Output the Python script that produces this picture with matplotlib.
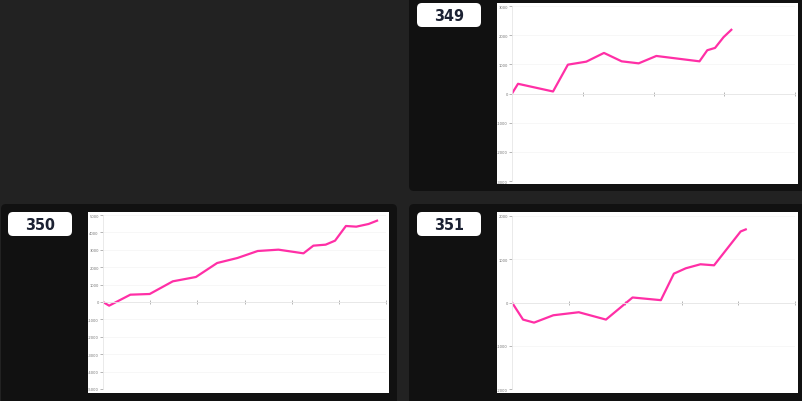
import matplotlib.pyplot as plt
from matplotlib.patches import FancyBboxPatch, Rectangle

# cumulative results for each card (x in period units)
ids = ['349', '350', '351']

x_349 = [0, 0.085, 0.58, 0.79, 1.05, 1.30, 1.55, 1.79, 2.04, 2.65, 2.76, 2.87, 2.99, 3.10]
y_349 = [0, 333, 69, 989, 1092, 1391, 1103, 1034, 1287, 1103, 1483, 1563, 1931, 2184]

x_350 = [0, 0.13, 0.58, 0.99, 1.48, 1.97, 2.42, 2.85, 3.28, 3.72, 4.25, 4.46, 4.72, 4.92,
         5.15, 5.37, 5.63, 5.81]
y_350 = [0, -211, 421, 460, 1188, 1437, 2241, 2529, 2931, 3008, 2797, 3238, 3295, 3525,
         4368, 4330, 4483, 4674]

x_351 = [0, 0.195, 0.39, 0.73, 1.18, 1.66, 2.13, 2.63, 2.86, 3.07, 3.33, 3.57, 4.04, 4.13]
y_351 = [0, -395, -465, -295, -225, -395, 116, 54, 667, 791, 884, 860, 1643, 1690]

xmax = [4, 6, 5]
ylim = [3000, 5000, 2000]

W, H = 803, 402
fig = plt.figure(figsize=(W / 100, H / 100), dpi=100)
fig.patch.set_facecolor('#222222')

bg = fig.add_axes([0, 0, 1, 1])
bg.set_xlim(0, W)
bg.set_ylim(H, 0)
bg.axis('off')

# dark cards: (x0, y0, x1, y1) in pixels
cards = [(409, -10, 813, 192), (1, 205, 397, 412), (409, 205, 813, 412)]
white = [(497, 4, 798, 185), (88, 213, 389, 394), (497, 213, 798, 394)]
labels = [(417, 4, 481, 28), (8, 213, 72, 237), (417, 213, 481, 237)]
plots = [(512, 7, 795, 182), (103, 216, 386, 390), (512, 217, 795, 390)]

for (a, b, c, d) in cards:
    bg.add_patch(FancyBboxPatch((a, b), c - a, d - b, boxstyle='round,pad=0,rounding_size=5',
                                fc='#111111', ec='none'))
for (a, b, c, d) in white:
    bg.add_patch(Rectangle((a, b), c - a, d - b, fc='white', ec='none'))
for (a, b, c, d), name in zip(labels, ids):
    bg.add_patch(FancyBboxPatch((a, b), c - a, d - b, boxstyle='round,pad=0,rounding_size=5',
                                fc='white', ec='none'))
    bg.text((a + c) / 2, (b + d) / 2 + 0.5, name, ha='center', va='center', fontsize=11.5,
            fontweight='bold', color='#1c2233', family='DejaVu Sans',
            fontstretch='condensed')

series = [(x_349, y_349), (x_350, y_350), (x_351, y_351)]
for (a, b, c, d), (xs, ys), xm, yl in zip(plots, series, xmax, ylim):
    ax = fig.add_axes([a / W, 1 - d / H, (c - a) / W, (d - b) / H])
    ax.patch.set_alpha(0)
    ax.plot(xs, ys, color='#ff2fa6', lw=1.6, solid_joinstyle='round')
    ax.set_xlim(0, xm)
    ax.set_ylim(-yl, yl)
    ax.set_yticks(range(-yl, yl + 1, 1000))
    ax.set_yticklabels([str(v) for v in range(-yl, yl + 1, 1000)])
    ax.set_xticks(range(1, xm + 1))
    ax.set_xticklabels([])
    ax.grid(axis='y', color='#f4f4f4', lw=0.5)
    ax.set_axisbelow(True)
    for s in ['top', 'right']:
        ax.spines[s].set_visible(False)
    ax.spines['bottom'].set_position(('data', 0))
    ax.spines['bottom'].set_color('#e6e6e6')
    ax.spines['bottom'].set_linewidth(0.6)
    ax.spines['left'].set_color('#e6e6e6')
    ax.spines['left'].set_linewidth(0.6)
    ax.tick_params(axis='y', length=2.5, width=0.5, color='#999999', labelsize=3.0,
                   labelcolor='#777777', pad=0.5)
    ax.tick_params(axis='x', length=2.5, width=0.5, color='#999999', direction='inout')
    for lab in ax.get_yticklabels():
        lab.set_fontstretch('condensed')

fig.savefig('out.png', dpi=100, facecolor=fig.get_facecolor())
